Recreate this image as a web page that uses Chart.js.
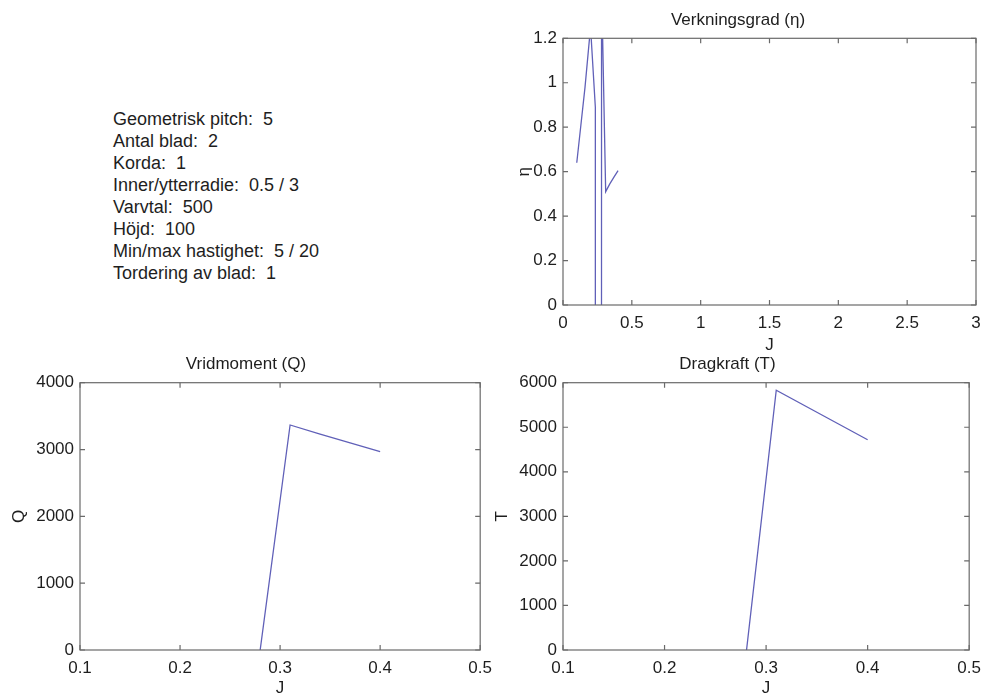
<!DOCTYPE html>
<html>
<head>
<meta charset="utf-8">
<script src="https://cdn.jsdelivr.net/npm/chart.js@4.4.1/dist/chart.umd.min.js"></script>
<style>
  body { margin: 0; background: #fff; width: 989px; height: 697px; position: relative; overflow: hidden; }
  .pane { position: absolute; }
  #info { position: absolute; left: 113px; top: 108px; font-family: "Liberation Sans", Arial, sans-serif;
          font-size: 18px; line-height: 22px; color: #1e1e1e; white-space: pre; }
</style>
</head>
<body>
<div id="info"></div>
<div class="pane" style="left:500px;top:0;width:489px;height:360px"><canvas id="etaChart"></canvas></div>
<div class="pane" style="left:0;top:345px;width:500px;height:352px"><canvas id="qChart"></canvas></div>
<div class="pane" style="left:480px;top:345px;width:509px;height:352px"><canvas id="tChart"></canvas></div>
<script>
// parameter text shown at top left
const infoLines = [
  'Geometrisk pitch:  5',
  'Antal blad:  2',
  'Korda:  1',
  'Inner/ytterradie:  0.5 / 3',
  'Varvtal:  500',
  'Höjd:  100',
  'Min/max hastighet:  5 / 20',
  'Tordering av blad:  1'
];

// advance ratio J and the three results
const jVals   = [0.1, 0.13, 0.16, 0.2, 0.235, 0.25, 0.28, 0.31, 0.34, 0.37, 0.4];
const etaVals = [0.64, 0.81, 0.98, 1.25, 0.89, -1000, 1.45, 0.51, 0.545, 0.575, 0.605];
const qVals   = [-1900, -2200, -2500, -2900, -3200, -3300, -10, 3367, 3230, 3100, 2967];
const tVals   = [-4200, -4700, -5200, -5800, -6300, -6600, -150, 5830, 5460, 5090, 4720];

// tick values / labels
const etaXTicks = [0, 0.5, 1, 1.5, 2, 2.5, 3];
const etaXLabels = ['0', '0.5', '1', '1.5', '2', '2.5', '3'];
const etaYTicks = [0, 0.2, 0.4, 0.6, 0.8, 1, 1.2];
const etaYLabels = ['0', '0.2', '0.4', '0.6', '0.8', '1', '1.2'];
const jTicks = [0.1, 0.2, 0.3, 0.4, 0.5];
const jLabels = ['0.1', '0.2', '0.3', '0.4', '0.5'];
const qTicks = [0, 1000, 2000, 3000, 4000];
const qLabels = ['0', '1000', '2000', '3000', '4000'];
const tTicks = [0, 1000, 2000, 3000, 4000, 5000, 6000];
const tLabels = ['0', '1000', '2000', '3000', '4000', '5000', '6000'];

document.getElementById('info').textContent = infoLines.join('\n');

const FONT = '"Liberation Sans", Arial, sans-serif';
const TEXT = '#1e1e1e';
const AXIS = '#6a6a6a';
const LINE = 'rgb(96,96,184)';

// box round the plot with inward ticks on all sides
const matlabBox = {
  id: 'matlabBox',
  afterDraw(chart) {
    const {ctx, chartArea: a, scales} = chart;
    ctx.save();
    ctx.strokeStyle = AXIS;
    ctx.lineWidth = 1.2;
    ctx.strokeRect(a.left, a.top, a.right - a.left, a.bottom - a.top);
    ctx.beginPath();
    scales.x.ticks.forEach(t => {
      const px = scales.x.getPixelForValue(t.value);
      ctx.moveTo(px, a.bottom); ctx.lineTo(px, a.bottom - 5);
      ctx.moveTo(px, a.top); ctx.lineTo(px, a.top + 5);
    });
    scales.y.ticks.forEach(t => {
      const py = scales.y.getPixelForValue(t.value);
      ctx.moveTo(a.left, py); ctx.lineTo(a.left + 5, py);
      ctx.moveTo(a.right, py); ctx.lineTo(a.right - 5, py);
    });
    ctx.stroke();
    ctx.restore();
  }
};

function makeChart(id, s) {
  return new Chart(document.getElementById(id), {
    type: 'line',
    data: {
      datasets: [{
        data: jVals.map((j, i) => ({x: j, y: s.values[i]})),
        borderColor: LINE,
        borderWidth: 1.3,
        pointRadius: 0,
        tension: 0,
        fill: false
      }]
    },
    options: {
      responsive: true,
      maintainAspectRatio: false,
      animation: false,
      layout: {padding: {right: s.padRight}, autoPadding: false},
      plugins: {
        legend: {display: false},
        tooltip: {enabled: false},
        title: {
          display: true, text: s.title, color: TEXT,
          font: {family: FONT, size: 17, weight: 'normal', lineHeight: 1.2},
          padding: {top: s.titleTop, bottom: s.titleBottom}
        }
      },
      scales: {
        x: {
          type: 'linear', min: s.xMin, max: s.xMax,
          grid: {display: false, drawTicks: false},
          border: {display: false},
          afterBuildTicks: sc => { sc.ticks = s.xTicks.map(v => ({value: v})); },
          afterFit: sc => { sc.height = s.xHeight; },
          ticks: {
            autoSkip: false, maxRotation: 0, padding: 8, color: TEXT,
            font: {family: FONT, size: 17},
            callback: (v, i) => s.xLabels[i]
          },
          title: {
            display: true, text: 'J', color: TEXT,
            font: {family: FONT, size: 17, lineHeight: 1},
            padding: {top: 0, bottom: s.xTitlePad}
          }
        },
        y: {
          type: 'linear', min: s.yMin, max: s.yMax,
          grid: {display: false, drawTicks: false},
          border: {display: false},
          afterBuildTicks: sc => { sc.ticks = s.yTicks.map(v => ({value: v})); },
          afterFit: sc => { sc.width = s.yWidth; },
          ticks: {
            autoSkip: false, padding: 6, color: TEXT,
            font: {family: FONT, size: 17},
            callback: (v, i) => s.yLabels[i]
          },
          title: {
            display: true, text: s.yTitle, color: TEXT,
            font: {family: FONT, size: 17, lineHeight: 1},
            padding: {top: s.yTitlePad, bottom: 0}
          }
        }
      }
    },
    plugins: [matlabBox]
  });
}

makeChart('etaChart', {
  values: etaVals, title: 'Verkningsgrad (η)', yTitle: 'η',
  xMin: 0, xMax: 3, yMin: 0, yMax: 1.2,
  xTicks: etaXTicks, xLabels: etaXLabels, yTicks: etaYTicks, yLabels: etaYLabels,
  padRight: 13, titleTop: 9.8, titleBottom: 8.1, xHeight: 55, xTitlePad: 6.5,
  yWidth: 63, yTitlePad: 15.5
});

makeChart('qChart', {
  values: qVals, title: 'Vridmoment (Q)', yTitle: 'Q',
  xMin: 0.1, xMax: 0.5, yMin: 0, yMax: 4000,
  xTicks: jTicks, xLabels: jLabels, yTicks: qTicks, yLabels: qLabels,
  padRight: 8, titleTop: 8.8, titleBottom: 8.5, xHeight: 47, xTitlePad: 0,
  yWidth: 80, yTitlePad: 10.5
});

makeChart('tChart', {
  values: tVals, title: 'Dragkraft (T)', yTitle: 'T',
  xMin: 0.1, xMax: 0.5, yMin: 0, yMax: 6000,
  xTicks: jTicks, xLabels: jLabels, yTicks: tTicks, yLabels: tLabels,
  padRight: 14, titleTop: 8.8, titleBottom: 8.5, xHeight: 47, xTitlePad: 0,
  yWidth: 83, yTitlePad: 13.5
});
</script>
</body>
</html>
